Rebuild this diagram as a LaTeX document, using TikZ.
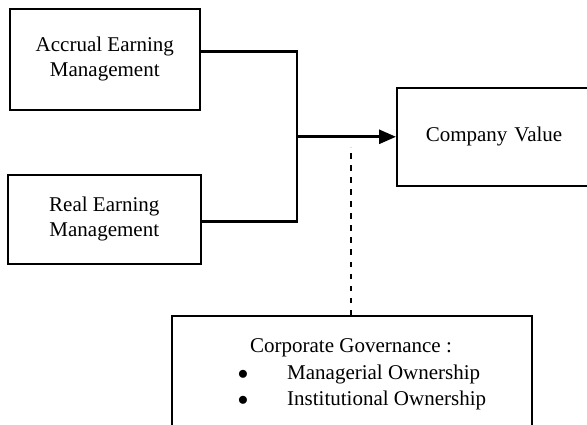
\documentclass[tikz,border=0pt]{standalone}
\usepackage{fontspec}
\setmainfont{Liberation Serif}
\usetikzlibrary{arrows.meta,positioning}

\begin{document}
\begin{tikzpicture}[x=1pt,y=-1pt,>=Triangle,
  box/.style={draw,line width=1.6pt,font=\fontsize{21pt}{25pt}\selectfont,align=center},
  txt/.style={font=\fontsize{21pt}{25pt}\selectfont,inner sep=0pt},
  conn/.style={line width=2.8pt},
  mod/.style={line width=2pt,dash pattern=on 5.5pt off 6.5pt}]
  \useasboundingbox (0,0) rectangle (587,425);
  \clip (0,0) rectangle (587,425);
  % the two earnings management boxes
  \node[box,anchor=north west,minimum width=190pt,minimum height=101pt] (ae) at (9,8) {Accrual Earning\\Management};
  \node[box,anchor=north west,minimum width=193pt,minimum height=89pt] (re) at (7,174) {Real Earning\\Management};
  % outcome
  \node[box,anchor=north west,minimum height=98pt,text width=150pt,align=left,inner xsep=29pt] (cv) at (396,87) {Company Value};
  % moderator box, runs past the page edge
  \node[box,anchor=north west,minimum width=360pt,minimum height=150pt] (cg) at (171,315) {};
  \node[txt,anchor=base] (cgh) at (351,352) {Corporate Governance :};
  \node[txt,anchor=base] (b1) at (243,379) {$\bullet$};
  \node[txt,anchor=base west] (o1) at (287,379) {Managerial Ownership};
  \node[txt,anchor=base] (b2) at (243,405.5) {$\bullet$};
  \node[txt,anchor=base west] (o2) at (287,405.5) {Institutional Ownership};
  % connectors
  \coordinate (jn) at ([xshift=-99pt]cv.west);
  \coordinate (md) at (351,147);
  \draw[conn] ([yshift=7.5pt]ae.east) -| (jn);
  \draw[conn] ([yshift=-2.5pt]re.east) -| (jn);
  \draw[conn,-{Triangle[length=17pt,width=14pt]}] (jn) -- (cv.west);
  \draw[mod] (cg.north -| md) -- (md);
\end{tikzpicture}
\end{document}
